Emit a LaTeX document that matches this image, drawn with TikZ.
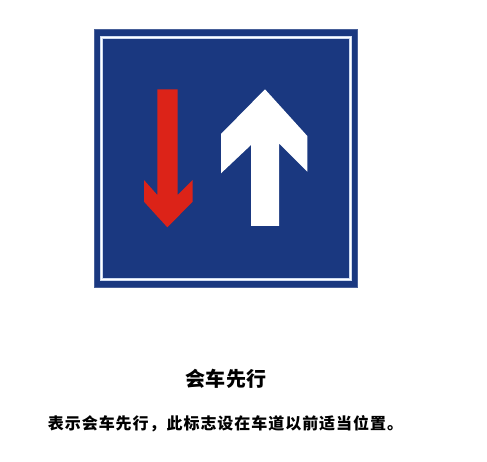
\documentclass[tikz,border=0pt]{standalone}
\usepackage{fontspec}
\usepackage{tikz}
\newfontfamily\cjkfont[BoldFont={Noto Sans CJK SC Black}]{Noto Sans CJK SC}
\definecolor{signblue}{RGB}{26,56,128}
\definecolor{signred}{RGB}{220,35,24}
\definecolor{signline}{RGB}{205,218,240}

\begin{document}
\begin{tikzpicture}[
  x=1pt, y=-1pt,
  plate/.style={fill=signblue, draw=signblue!80!white, line width=0.5pt},
  rim/.style={draw=signline, line width=2.1pt},
  rimcore/.style={draw=white, line width=0.8pt},
  arrowshape/.style={draw=none},
  caption/.style={text=black, inner sep=0pt}
]
  \useasboundingbox (0,0) rectangle (487,462);

  % sign plate
  \draw[plate] (94.3,29.7) rectangle (357.7,287.7);
  \draw[rim] (101.5,37.5) rectangle (350.5,279.5);
  \draw[rimcore] (101.5,37.5) rectangle (350.5,279.5);

  % opposing traffic
  \fill[signred, arrowshape]
    (157.3,89.3) -- (177.7,89.3) -- (177.7,195) -- (192.7,180)
    -- (192.7,201.7) -- (167.3,227.3) -- (144,201.7) -- (144,180)
    -- (157.3,195) -- cycle;

  % priority direction
  \fill[white, arrowshape]
    (265,89.3) -- (307.3,136) -- (307.3,171.7) -- (279,143.3)
    -- (279,226) -- (251,226) -- (251,145) -- (221,173.3)
    -- (221,134) -- cycle;

  \node[caption, font=\cjkfont\bfseries\fontsize{20}{20}\selectfont\addfontfeature{LetterSpace=3}] (title) at (226,379) {会车先行};
  \node[caption, font=\cjkfont\bfseries\fontsize{16}{16}\selectfont\addfontfeature{LetterSpace=6}] (note) at (225.5,423.5) {表示会车先行，此标志设在车道以前适当位置。};
\end{tikzpicture}
\end{document}
